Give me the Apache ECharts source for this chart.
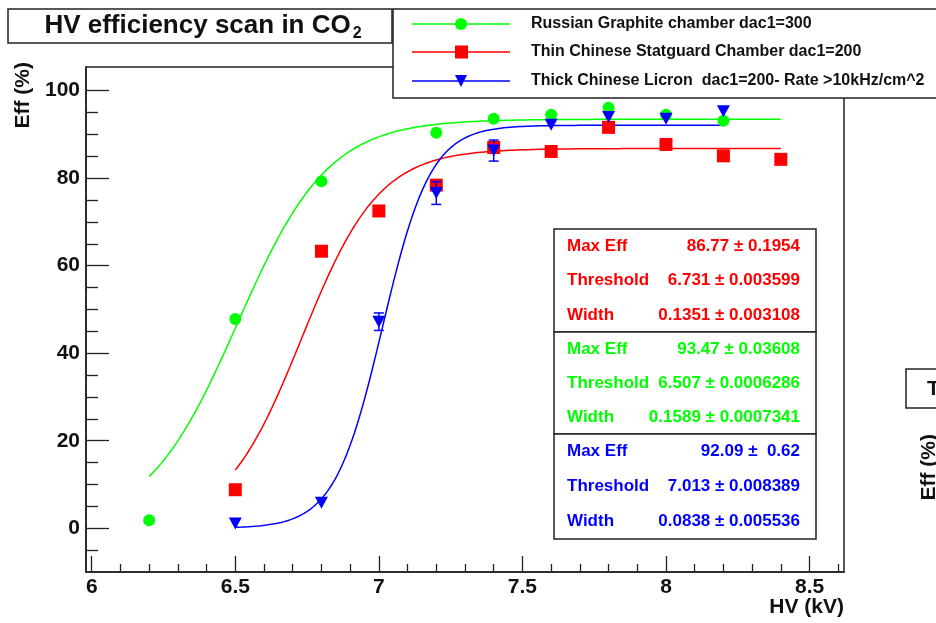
<!DOCTYPE html>
<html>
<head>
<meta charset="utf-8">
<script src="https://cdn.jsdelivr.net/npm/echarts@6/dist/echarts.min.js"></script>
<style>
  html, body { margin: 0; padding: 0; background: #ffffff; }
  #chart { width: 936px; height: 623px; }
</style>
</head>
<body>
<div id="chart"></div>
<script>
// Measured efficiency points (HV in kV, efficiency in %)
const hvGreen  = [6.2, 6.5, 6.8, 7.2, 7.4, 7.6, 7.8, 8.0, 8.2];
const effGreen = [1.8, 47.8, 79.3, 90.4, 93.6, 94.5, 96.1, 94.5, 93.1];

const hvRed  = [6.5, 6.8, 7.0, 7.2, 7.4, 7.6, 7.8, 8.0, 8.2, 8.4];
const effRed = [8.8, 63.3, 72.5, 78.4, 87.0, 86.1, 91.6, 87.7, 85.1, 84.3];

const hvBlue  = [6.5, 6.8, 7.0, 7.2, 7.4, 7.6, 7.8, 8.0, 8.2];
const effBlue = [1.1, 5.8, 47.2, 76.6, 86.3, 92.2, 94.0, 93.6, 95.3];
const errBlue = [0, 0, 2.0, 2.6, 2.4, 0, 0, 0, 0];

// Legend entries and colours (green, red, blue)
const seriesNames = [
  'Russian Graphite chamber dac1=300',
  'Thin Chinese Statguard Chamber dac1=200',
  'Thick Chinese Licron  dac1=200- Rate >10kHz/cm^2'
];
const seriesColors = ['#00ff00', '#ff0000', '#0000ff'];

// Sigmoid fit parameters: eff = max / (1 + exp(-(hv - threshold) / width))
const fitMax       = [93.47, 86.77, 92.09];
const fitThreshold = [6.507, 6.731, 7.013];
const fitWidth     = [0.1589, 0.1351, 0.0838];
const fitFrom      = [6.2, 6.5, 6.5];
const fitTo        = [8.4, 8.4, 8.2];

// Fit result boxes, top to bottom: red, green, blue
const statOrder  = [1, 0, 2];
const statLabels = ['Max Eff', 'Threshold', 'Width'];
const statValues = [
  ['86.77 \u00b1 0.1954', '6.731 \u00b1 0.003599', '0.1351 \u00b1 0.003108'],
  ['93.47 \u00b1 0.03608', '6.507 \u00b1 0.0006286', '0.1589 \u00b1 0.0007341'],
  ['92.09 \u00b1  0.62', '7.013 \u00b1 0.008389', '0.0838 \u00b1 0.005536']
];

// Axis ticks
const xMajorTicks = [6, 6.5, 7, 7.5, 8, 8.5];
const xMinorTicks = [6.1, 6.2, 6.3, 6.4, 6.6, 6.7, 6.8, 6.9, 7.1, 7.2, 7.3, 7.4,
                     7.6, 7.7, 7.8, 7.9, 8.1, 8.2, 8.3, 8.4, 8.6];
const yMajorTicks = [0, 20, 40, 60, 80, 100];
const yMinorTicks = [-5, 5, 10, 15, 25, 30, 35, 45, 50, 55, 65, 70, 75, 85, 90, 95];

const X_MIN = 5.98, X_MAX = 8.62, Y_MIN = -10, Y_MAX = 105.4;

const FONT = '"Liberation Sans", Arial, Helvetica, sans-serif';
const AXIS_COLOR = '#222';

function fitCurve(i) {
  const pts = [];
  const steps = 300;
  for (let k = 0; k <= steps; k++) {
    const x = fitFrom[i] + (fitTo[i] - fitFrom[i]) * k / steps;
    pts.push([x, fitMax[i] / (1 + Math.exp(-(x - fitThreshold[i]) / fitWidth[i]))]);
  }
  return pts;
}

const zip = (xs, ys) => xs.map((x, i) => [x, ys[i]]);

const chart = echarts.init(document.getElementById('chart'), null, { renderer: 'canvas' });

function makeXAxis(ticks, len, withLabels, withLine) {
  return {
    type: 'value', min: X_MIN, max: X_MAX, position: 'bottom',
    axisLine: { show: withLine, onZero: false, lineStyle: { color: AXIS_COLOR, width: 1.6 } },
    axisTick: { show: true, inside: true, length: len, customValues: ticks,
                lineStyle: { color: AXIS_COLOR, width: 1.3 } },
    axisLabel: withLabels ? {
      show: true, customValues: ticks, margin: 5,
      color: '#111', fontFamily: FONT, fontWeight: 'bold', fontSize: 21
    } : { show: false },
    splitLine: { show: false }
  };
}
function makeYAxis(ticks, len, withLabels, withLine) {
  return {
    type: 'value', min: Y_MIN, max: Y_MAX, position: 'left',
    axisLine: { show: withLine, onZero: false, lineStyle: { color: AXIS_COLOR, width: 1.6 } },
    axisTick: { show: true, inside: true, length: len, customValues: ticks,
                lineStyle: { color: AXIS_COLOR, width: 1.3 } },
    axisLabel: withLabels ? {
      show: true, customValues: ticks, margin: 6,
      color: '#111', fontFamily: FONT, fontWeight: 'bold', fontSize: 21
    } : { show: false },
    splitLine: { show: false }
  };
}

// Overlay graphics: title, legend, fit boxes, axis titles
const graphics = [];

graphics.push({
  type: 'rect', z: 100,
  shape: { x: 8, y: 9, width: 384, height: 34 },
  style: { fill: '#fff', stroke: AXIS_COLOR, lineWidth: 1.5 }
});
graphics.push({
  type: 'text', z: 101,
  style: {
    x: 203, y: 26,
    text: '{m|HV efficiency scan in CO}{s|2}',
    align: 'center', verticalAlign: 'middle',
    textAlign: 'center', textVerticalAlign: 'middle',
    rich: {
      m: { font: 'bold 26px ' + FONT, fill: '#111', color: '#111' },
      s: { font: 'bold 16px ' + FONT, fill: '#111', color: '#111', padding: [16, 0, 0, 2] }
    }
  }
});

// Legend
graphics.push({
  type: 'rect', z: 100,
  shape: { x: 393, y: 9, width: 560, height: 89 },
  style: { fill: '#fff', stroke: AXIS_COLOR, lineWidth: 1.5 }
});
const legendRows = [24, 52, 81];
seriesNames.forEach((name, i) => {
  const y = legendRows[i];
  graphics.push({ type: 'line', z: 101,
    shape: { x1: 412, y1: y, x2: 510, y2: y },
    style: { stroke: seriesColors[i], lineWidth: 1.5 } });
  if (i === 0) {
    graphics.push({ type: 'circle', z: 102, shape: { cx: 461, cy: y, r: 6 },
      style: { fill: seriesColors[i] } });
  } else if (i === 1) {
    graphics.push({ type: 'rect', z: 102, shape: { x: 455, y: y - 6.5, width: 13, height: 13 },
      style: { fill: seriesColors[i] } });
  } else {
    graphics.push({ type: 'polygon', z: 102,
      shape: { points: [[455, y - 6], [467, y - 6], [461, y + 6]] },
      style: { fill: seriesColors[i] } });
  }
  graphics.push({ type: 'text', z: 101,
    style: { x: 531, y: y, text: name, font: 'bold 16px ' + FONT, fill: '#111',
             align: 'left', verticalAlign: 'middle', textAlign: 'left', textVerticalAlign: 'middle' } });
});

// Fit result boxes
const boxTop = [229, 332, 434];
const boxBottom = [332, 434, 539];
statOrder.forEach((s, b) => {
  graphics.push({ type: 'rect', z: 100,
    shape: { x: 554, y: boxTop[b], width: 262, height: boxBottom[b] - boxTop[b] },
    style: { fill: '#fff', stroke: AXIS_COLOR, lineWidth: 1.5 } });
  const rowH = (boxBottom[b] - boxTop[b]) / 3;
  statLabels.forEach((lab, r) => {
    const y = boxTop[b] + rowH * (r + 0.5);
    graphics.push({ type: 'text', z: 101,
      style: { x: 567, y: y, text: lab, font: 'bold 17px ' + FONT, fill: seriesColors[s],
               align: 'left', verticalAlign: 'middle', textAlign: 'left', textVerticalAlign: 'middle' } });
    graphics.push({ type: 'text', z: 101,
      style: { x: 800, y: y, text: statValues[b][r], font: 'bold 17px ' + FONT, fill: seriesColors[s],
               align: 'right', verticalAlign: 'middle', textAlign: 'right', textVerticalAlign: 'middle' } });
  });
});

// Axis titles
graphics.push({ type: 'text', z: 101, x: 23, y: 62, rotation: Math.PI / 2,
  style: { x: 0, y: 0, text: 'Eff (%)', font: 'bold 21px ' + FONT, fill: '#111',
           align: 'right', verticalAlign: 'middle', textAlign: 'right', textVerticalAlign: 'middle' } });
graphics.push({ type: 'text', z: 101,
  style: { x: 844, y: 607, text: 'HV (kV)', font: 'bold 21px ' + FONT, fill: '#111',
           align: 'right', verticalAlign: 'middle', textAlign: 'right', textVerticalAlign: 'middle' } });

// Edge of the neighbouring pad
graphics.push({ type: 'rect', z: 100,
  shape: { x: 906, y: 369, width: 60, height: 39 },
  style: { fill: '#fff', stroke: AXIS_COLOR, lineWidth: 1.5 } });
graphics.push({ type: 'text', z: 101,
  style: { x: 927, y: 389, text: 'T', font: 'bold 21px ' + FONT, fill: '#111',
           align: 'left', verticalAlign: 'middle', textAlign: 'left', textVerticalAlign: 'middle' } });
graphics.push({ type: 'text', z: 101, x: 929, y: 434, rotation: Math.PI / 2,
  style: { x: 0, y: 0, text: 'Eff (%)', font: 'bold 21px ' + FONT, fill: '#111',
           align: 'right', verticalAlign: 'middle', textAlign: 'right', textVerticalAlign: 'middle' } });

// Error bars with end caps
const errData = [];
hvBlue.forEach((x, i) => {
  if (errBlue[i] > 0) errData.push([x, effBlue[i] - errBlue[i], effBlue[i] + errBlue[i]]);
});

const option = {
  backgroundColor: '#ffffff',
  animation: false,
  grid: {
    left: 86, right: 92, top: 67, bottom: 51,
    show: true, borderColor: AXIS_COLOR, borderWidth: 1.5, backgroundColor: 'transparent',
    containLabel: false, outerBoundsMode: 'none'
  },
  xAxis: [
    makeXAxis(xMajorTicks, 16, true, true),
    makeXAxis(xMinorTicks, 8, false, false)
  ],
  yAxis: [
    makeYAxis(yMajorTicks, 23, true, true),
    makeYAxis(yMinorTicks, 12, false, false)
  ],
  series: [
    ...[0, 1, 2].map(i => ({
      type: 'line', name: seriesNames[i] + ' fit', data: fitCurve(i),
      showSymbol: false, symbol: 'none', smooth: false, z: 2,
      lineStyle: { color: seriesColors[i], width: 1.5 }
    })),
    {
      type: 'scatter', name: seriesNames[0], data: zip(hvGreen, effGreen), z: 3,
      symbol: 'circle', symbolSize: 12, itemStyle: { color: seriesColors[0], opacity: 1 }
    },
    {
      type: 'scatter', name: seriesNames[1], data: zip(hvRed, effRed), z: 4,
      symbol: 'rect', symbolSize: 13, itemStyle: { color: seriesColors[1], opacity: 1 }
    },
    {
      type: 'custom', name: 'errors', data: errData, z: 5,
      renderItem: function (params, api) {
        const x = api.value(0);
        const lo = api.coord([x, api.value(1)]);
        const hi = api.coord([x, api.value(2)]);
        const cap = 5;
        const st = { stroke: seriesColors[2], lineWidth: 1.5 };
        return { type: 'group', children: [
          { type: 'line', shape: { x1: lo[0], y1: lo[1], x2: hi[0], y2: hi[1] }, style: st },
          { type: 'line', shape: { x1: lo[0] - cap, y1: lo[1], x2: lo[0] + cap, y2: lo[1] }, style: st },
          { type: 'line', shape: { x1: hi[0] - cap, y1: hi[1], x2: hi[0] + cap, y2: hi[1] }, style: st }
        ] };
      }
    },
    {
      type: 'scatter', name: seriesNames[2], data: zip(hvBlue, effBlue), z: 6,
      symbol: 'triangle', symbolRotate: 180, symbolSize: [13, 12],
      itemStyle: { color: seriesColors[2], opacity: 1 }
    }
  ],
  graphic: { elements: graphics }
};

chart.setOption(option);
</script>
</body>
</html>
